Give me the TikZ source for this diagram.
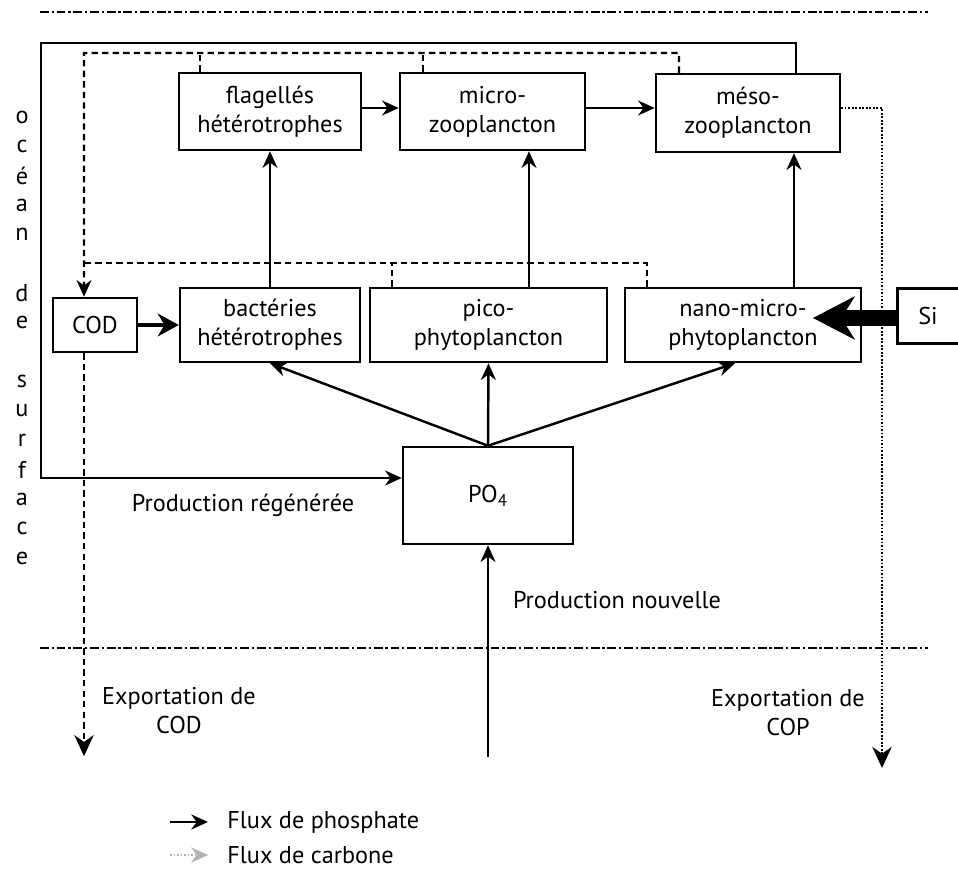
\documentclass[tikz,border=0pt]{standalone}
\usepackage{fontspec}
\setmainfont{PT Sans}
\usetikzlibrary{arrows.meta,positioning,calc}

\begin{document}
\begin{tikzpicture}[x=0.02cm, y=-0.02cm, >={Stealth[length=9.5pt,width=8.5pt]},
    font=\fontsize{13.8}{16.5}\selectfont]

    % Styles
    \tikzset{
        box/.style={draw, line width=1.4pt, inner sep=0pt, align=center},
        phos/.style={->, line width=1.4pt},
        carb/.style={line width=1.4pt, dash pattern=on 3.6pt off 2.4pt},
        cop/.style={line width=1.4pt, dash pattern=on 1pt off 1pt},
        limit/.style={line width=1.4pt, dash pattern=on 5pt off 1.6pt on 1.3pt off 1.6pt},
        export/.style={-{Stealth[length=12pt,width=11pt]}},
        label/.style={align=center, inner sep=0pt}
    }

    \useasboundingbox (0,0) rectangle (958,875);

    % Coordinates
    \coordinate (topL) at (40,12);     % upper limit of the surface layer
    \coordinate (topR) at (928,12);
    \coordinate (botL) at (40,648);    % lower limit of the surface layer
    \coordinate (botR) at (928,648);
    \coordinate (deep) at (488,757);   % source of new production
    \coordinate (sitip) at (813,318);  % tip of the silicate arrow

    % Layer limits
    \draw[limit] (topL) -- (topR);
    \draw[limit] (botL) -- (botR);

    % Boxes
    \node[box, minimum width=3.64cm, minimum height=1.54cm] (flag) at (270,111.5) {flagellés\\hétérotrophes};
    \node[box, minimum width=3.7cm, minimum height=1.54cm] (micro) at (492.5,111.5) {micro-\\zooplancton};
    \node[box, minimum width=3.68cm, minimum height=1.56cm] (meso) at (748,113) {méso-\\zooplancton};
    \node[box, minimum width=3.6cm, minimum height=1.48cm] (bact) at (270,325) {bactéries\\hétérotrophes};
    \node[box, minimum width=4.74cm, minimum height=1.48cm] (pico) at (488.5,325) {pico-\\phytoplancton};
    \node[box, minimum width=4.72cm, minimum height=1.48cm] (nano) at (743,325) {nano-micro-\\phytoplancton};
    \node[box, minimum width=1.68cm, minimum height=1.08cm] (COD) at (95,325) {COD};
    \node[box, minimum width=3.4cm, minimum height=1.94cm] (PO4) at (488,495.5) {PO\textsubscript{4}};
    \node[minimum width=1.2cm, minimum height=1.08cm, inner sep=0pt] (Si) at (928,316) {Si};
    \draw[line width=1.4pt] (Si.north east) -- (Si.north west) -- (Si.south west) -- (Si.south east);

    % Carbon fluxes (dashed)
    \draw[carb, ->] ([xshift=-1.38cm]meso.north) |- (84,53) -- ([xshift=-0.22cm]COD.north);
    \draw[carb] ([xshift=-1.4cm]flag.north) -- ++(0,-20);
    \draw[carb] ([xshift=-1.39cm]micro.north) -- ++(0,-20);
    \draw[carb] ([xshift=-1.92cm]nano.north) |- (84,263);
    \draw[carb] ([xshift=-1.93cm]pico.north) -- ++(0,-25);
    \draw[carb, export] ([xshift=-0.22cm]COD.south) -- ++(0,403);
    \draw[cop, export] ([yshift=0.1cm]meso.east) -| (882,768);

    % Phosphate fluxes
    \draw[phos] ([yshift=0.07cm]flag.east) -- ([yshift=0.07cm]micro.west);
    \draw[phos] ([yshift=0.07cm]micro.east) -- ([yshift=0.07cm]micro.east -| meso.west);
    \draw[phos] (bact.north) -- (flag.south);
    \draw[phos] ([xshift=0.81cm]pico.north) -- ([xshift=0.81cm]pico.north |- micro.south);
    \draw[phos] ([xshift=1.02cm]nano.north) -- ([xshift=1.02cm]nano.north |- meso.south);
    \draw[phos] (PO4.north) -- (bact.south);
    \draw[phos] (PO4.north) -- (pico.south);
    \draw[phos] (PO4.north) -- ([xshift=-0.16cm]nano.south);
    \draw[phos] (deep) -- (PO4.south);
    \draw[phos] ([xshift=0.96cm]meso.north) |- (41,43) |- ([yshift=0.35cm]PO4.west);
    \draw[line width=2.4pt, -{Stealth[length=12pt,width=13pt]}] (COD) -- (bact);
    \draw[line width=9pt, -{Stealth[length=24pt,width=25pt,line width=0pt]}] (Si.west |- sitip) -- (sitip);

    % Labels
    \node[label] (regen) at (243,505) {Production régénérée};
    \node[label] (nouv) at (617,600) {Production nouvelle};
    \node[label] (expCOD) at (179,711) {Exportation de\\COD};
    \node[label] (expCOP) at (788,713) {Exportation de\\COP};

    % Surface ocean, written downwards
    \foreach \l [count=\i from 0] in {o,c,é,a,n,,d,e,,s,u,r,f,a,c,e}
        \node[label] (ocean\i) at (22,117+\i*29.4) {\l};

    % Legend
    \coordinate (legP) at (170,822);
    \coordinate (legC) at (170,855);
    \draw[phos] (legP) -- ++(38,0);
    \draw[cop, gray!60, ->, line width=0.9pt] (legC) -- ++(38,0);
    \node[label, anchor=west] (legPtxt) at (227,822) {Flux de phosphate};
    \node[label, anchor=west] (legCtxt) at (227,855) {Flux de carbone};

\end{tikzpicture}
\end{document}
